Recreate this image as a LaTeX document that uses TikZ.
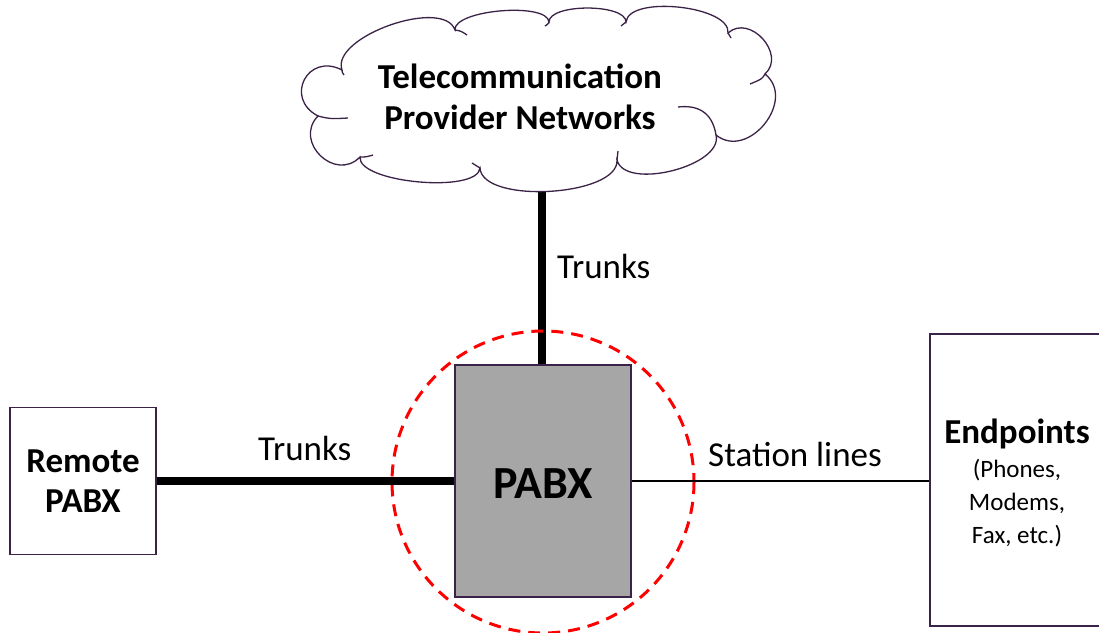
\documentclass[tikz,border=0pt]{standalone}
\usepackage{fontspec}
\setmainfont{Carlito}
\definecolor{edgec}{HTML}{3B2347}
\definecolor{pabxgray}{HTML}{A6A6A6}
\definecolor{ringred}{HTML}{FF0000}
\begin{document}
\begin{tikzpicture}[x=1pt,y=-1pt,
  box/.style={draw=edgec, line width=1.3pt, fill=white, inner sep=0pt},
  lbl/.style={font=\fontsize{35}{42}\selectfont, inner sep=0pt},
  title/.style={font=\bfseries\fontsize{35}{40}\selectfont, align=center, inner sep=0pt},
  sub/.style={font=\fontsize{25}{33}\selectfont, inner sep=0pt, anchor=base},
  trunk/.style={line width=8pt},
  station/.style={line width=1.5pt},
  cloudline/.style={draw=edgec, line width=1.3pt},
  puff/.style={bend right=90, looseness=#1}]
\useasboundingbox (0,0) rectangle (1099,632);
% boxes
\node[box, minimum width=146pt, minimum height=147pt] (remote) at (83,481) {};
\node[title] (remotetext) at (83,481) {Remote\\PABX};
\node[box, fill=pabxgray, minimum width=176pt, minimum height=232pt] (pabx) at (543,481) {};
\node[font=\bfseries\fontsize{46}{52}\selectfont, inner sep=0pt] (pabxtext) at (543,484) {PABX};
\node[box, minimum width=176pt, minimum height=292pt] (endp) at (1018,480) {};
\node[font=\bfseries\fontsize{35}{40}\selectfont, inner sep=0pt, anchor=base] (endptitle) at (1017,443) {Endpoints};
\node[sub] (endp1) at (1017,477) {(Phones,};
\node[sub] (endp2) at (1017,510) {Modems,};
\node[sub] (endp3) at (1017,543) {Fax, etc.)};
% trunk up to the cloud (its top end is hidden by the cloud's fill)
\coordinate (cloudbottom) at (542,170);
\draw[trunk] (pabx.north -| cloudbottom) -- (cloudbottom);
% cloud
\path[cloudline, fill=white]
  (342,70) to[puff=1.9] (318,116) to[puff=1.55] (360,157) to[puff=0.55] (480,168)
  to[puff=0.68] (617,160) to[puff=0.8] (716,135) to[puff=1.35] (765,74)
  to[puff=1.35] (728,33) to[puff=0.68] (626,22) to[puff=0.62] (549,22)
  to[puff=0.55] (455,30) to[puff=0.75] (342,70) -- cycle;
\draw[cloudline] (318,116) .. controls (330,119) .. (348,118);
\draw[cloudline] (360,157) .. controls (366,157) .. (373,155);
\draw[cloudline] (716,135) .. controls (712,110) and (695,105) .. (678,107);
\draw[cloudline] (765,74) .. controls (762,79) .. (750,84);
\draw[cloudline] (455,30) .. controls (461,31) .. (467,35);
\draw[cloudline] (342,70) .. controls (342,72) .. (344,75);
\draw[cloudline] (480,168) .. controls (476,166) .. (472,163);
\draw[cloudline] (617,160) .. controls (618,156) .. (618,151);
\draw[cloudline] (626,22) .. controls (624,24) .. (621,26);
\draw[cloudline] (549,22) .. controls (548,24) .. (545,26);
\draw[cloudline] (728,33) .. controls (729,35) .. (731,38);
\node[title, font=\bfseries\fontsize{35}{41}\selectfont] (cloud) at (520,97) {Telecommunication\\Provider Networks};
% ring
\coordinate (ringc) at (543,482);
\draw[ringred, line width=3pt, dash pattern=on 12pt off 8pt] (ringc) circle (151);
% connectors
\draw[trunk] (remote.east) -- (pabx.west);
\draw[station] (pabx.east) -- (pabx.east -| endp.west);
% labels
\node[lbl, anchor=base west] (trunkup) at (557,278) {Trunks};
\node[lbl, anchor=base west] (trunkleft) at (258,460) {Trunks};
\node[lbl, anchor=base west] (stationlbl) at (708,466) {Station lines};
\end{tikzpicture}
\end{document}
